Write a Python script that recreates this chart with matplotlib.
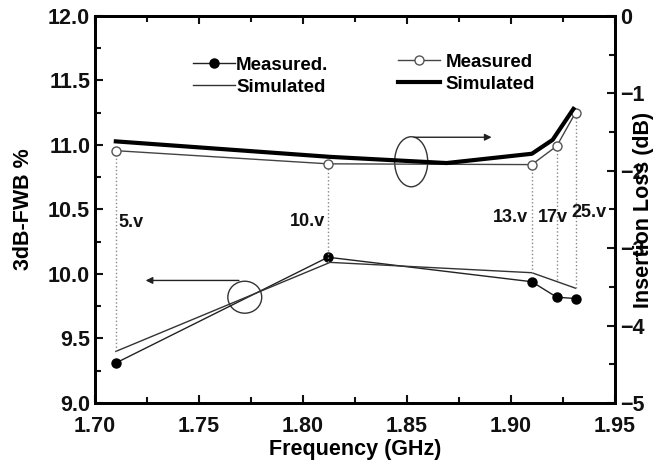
import numpy as np
import matplotlib.pyplot as plt
from matplotlib.patches import Ellipse

plt.rcParams['font.family'] = ['Liberation Sans', 'DejaVu Sans']
plt.rcParams['font.weight'] = 'bold'

# ---- Data ----
freq_meas = [1.710, 1.812, 1.910, 1.922, 1.931]
fwb_meas = [9.31, 10.13, 9.94, 9.82, 9.81]
freq_sim = [1.710, 1.813, 1.910, 1.931]
fwb_sim = [9.40, 10.09, 10.01, 9.89]

il_meas = [-1.74, -1.91, -1.92, -1.68, -1.25]
freq_il_sim = [1.710, 1.813, 1.869, 1.910, 1.920, 1.930]
il_sim = [-1.62, -1.82, -1.90, -1.78, -1.60, -1.20]

voltages = ['5.v', '10.v', '13.v', '17v', '25.v']
volt_label_pos = [(1.7115, 10.40), (1.7935, 10.41), (1.8915, 10.44), (1.913, 10.44), (1.929, 10.48)]

fig = plt.figure(figsize=(6.58, 4.62), dpi=100)
ax = fig.add_axes([0.1444, 0.1277, 0.7903, 0.8377])
ax2 = ax.twinx()

# left axis curves
ax.plot(freq_meas, fwb_meas, '-o', color='#222222', lw=1.0, ms=6.5,
        mfc='black', mec='black', label='Measured.')
ax.plot(freq_sim, fwb_sim, '-', color='#333333', lw=1.0, label='Simulated')

# right axis curves
ax2.plot(freq_meas, il_meas, '-o', color='#444444', lw=1.0, ms=6.5,
         mfc='white', mec='#555555', label='Measured')
ax2.plot(freq_il_sim, il_sim, '-', color='black', lw=3.0, label='Simulated')

# dotted verticals from circles down to lower curves
bottoms = [9.40, 10.09, 10.01, 9.95, 9.89]
for f, il, b in zip(freq_meas, il_meas, bottoms):
    top = 12 + il * 3 / 5  # map dB to left-axis units
    ax.plot([f, f], [b, top], ls=':', color='#888888', lw=1.0)

for txt, (x, y) in zip(voltages, volt_label_pos):
    ax.text(x, y, txt, fontsize=13, fontweight='bold', ha='left', va='center', color='#111111')

# ellipses and arrows
ax.add_patch(Ellipse((1.852, 10.87), 0.0159, 0.388, fill=False, color='#333333', lw=1.0))
ax.annotate('', xy=(1.892, 11.06), xytext=(1.852, 11.06),
            arrowprops=dict(arrowstyle='-|>', color='#222222', lw=1.0, mutation_scale=10))
ax.add_patch(Ellipse((1.772, 9.82), 0.0163, 0.248, fill=False, color='#333333', lw=1.0))
ax.annotate('', xy=(1.723, 9.95), xytext=(1.7705, 9.95),
            arrowprops=dict(arrowstyle='-|>', color='#222222', lw=1.0, mutation_scale=10))

ax.set_xlim(1.70, 1.95)
ax.set_ylim(9.0, 12.0)
ax2.set_ylim(-5, 0)
ax.set_xticks([1.70, 1.75, 1.80, 1.85, 1.90, 1.95])
ax.set_xticks(np.arange(1.725, 1.95, 0.05), minor=True)
ax.set_yticks([9.0, 9.5, 10.0, 10.5, 11.0, 11.5, 12.0])
ax.set_yticks(np.arange(9.25, 12.0, 0.5), minor=True)
ax2.set_yticks([0, -1, -2, -3, -4, -5])
ax2.set_yticks(np.arange(-4.5, 0, 1.0), minor=True)
ax.set_xticklabels(['1.70', '1.75', '1.80', '1.85', '1.90', '1.95'])
ax.set_yticklabels(['9.0', '9.5', '10.0', '10.5', '11.0', '11.5', '12.0'])

for a in (ax, ax2):
    a.tick_params(which='both', direction='in', width=1.5, labelsize=15.5, colors='#111111')
    a.tick_params(which='major', length=6)
    a.tick_params(which='minor', length=4)
    for s in a.spines.values():
        s.set_linewidth(2.0)
ax.tick_params(which='both', top=True)
ax.tick_params(axis='x', pad=9)

ax.set_xlabel('Frequency (GHz)', fontsize=15.5, fontweight='bold', labelpad=2)
ax.set_ylabel('3dB-FWB %', fontsize=15.5, fontweight='bold', labelpad=10)
ax2.set_ylabel('Insertion Loss (dB)', fontsize=15.5, fontweight='bold', labelpad=-8)

ax.legend(loc='upper left', bbox_to_anchor=(0.1885, 0.895), frameon=False,
          borderpad=0, borderaxespad=0, fontsize=13.5, handlelength=2.25,
          handletextpad=0.05, labelspacing=0.25)
ax2.legend(loc='upper left', bbox_to_anchor=(0.583, 0.902), frameon=False,
           borderpad=0, borderaxespad=0, fontsize=13.5, handlelength=2.25,
           handletextpad=0.27, labelspacing=0.25)

fig.savefig('out.png', dpi=100)
